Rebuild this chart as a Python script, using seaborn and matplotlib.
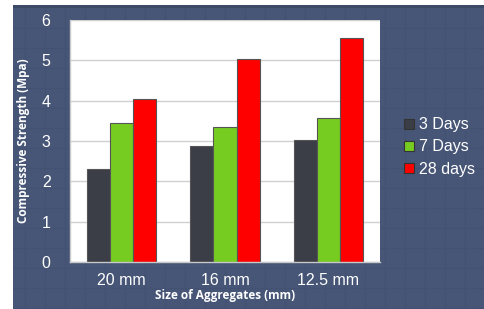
import matplotlib
matplotlib.use("Agg")
import matplotlib.pyplot as plt
import seaborn as sns
import pandas as pd
from matplotlib.patches import Rectangle
from matplotlib.lines import Line2D

categories = ["20 mm", "16 mm", "12.5 mm"]
series = ["3 Days", "7 Days", "28 days"]
days3 = [2.30, 2.88, 3.02]
days7 = [3.45, 3.35, 3.58]
days28 = [4.03, 5.03, 5.55]
yticks = [0, 1, 2, 3, 4, 5, 6]
colors = ["#3b3e46", "#77cc22", "#ff0000"]

df = pd.DataFrame({
    "Size": categories * 3,
    "Series": [s for s in series for _ in categories],
    "Value": days3 + days7 + days28,
})

sns.set_theme(style="white")
plt.rcParams["font.family"] = ["Liberation Sans", "DejaVu Sans"]

W, H = 485, 309
fig = plt.figure(figsize=(W / 100, H / 100), dpi=100)
fig.patch.set_facecolor("white")
bg = "#475677"
fig.patches.append(Rectangle((13 / W, 0), 1 - 13 / W, (H - 5) / H,
                             transform=fig.transFigure, facecolor=bg,
                             edgecolor="none", zorder=-10))
fig.patches.append(Rectangle((13 / W, (H - 8) / H), 1 - 13 / W, 3 / H,
                             transform=fig.transFigure, facecolor="#3c4a68",
                             edgecolor="none", zorder=-9))
# subtle background grid pattern
for px in range(25, W, 20):
    fig.add_artist(Line2D([px / W, px / W], [0, (H - 8) / H], transform=fig.transFigure,
                          color="#435272", lw=0.8, zorder=-8))
for py in range(28, H, 20):
    fig.add_artist(Line2D([13 / W, 1], [1 - py / H, 1 - py / H], transform=fig.transFigure,
                          color="#435272", lw=0.8, zorder=-8))

ax = fig.add_axes([70 / W, (H - 262) / H, (380 - 70) / W, (262 - 20) / H])
ax.set_facecolor("white")

sns.barplot(data=df, x="Size", y="Value", hue="Series", palette=colors, saturation=1,
            width=0.67, edgecolor="#555555", linewidth=0.8, ax=ax, legend=False)

ax.set_ylim(0, 6)
ax.set_yticks(yticks)
ax.yaxis.grid(True, color="#d0d0d0", lw=1)
ax.set_axisbelow(True)
for s in ["top", "right"]:
    ax.spines[s].set_visible(False)
for s in ["left", "bottom"]:
    ax.spines[s].set_color("#c8c8c8")
    ax.spines[s].set_linewidth(1)
ax.tick_params(axis="y", colors="white", labelsize=11.5, length=4, color="#9aa3b5", pad=10)
ax.tick_params(axis="x", colors="white", labelsize=11.5, length=0, pad=8)
ax.set_xlabel("Size of Aggregates (mm)", color="white", fontsize=8.5, fontweight="bold",
              labelpad=1, family=["Open Sans", "DejaVu Sans"])
ax.set_ylabel("Compressive Strength (Mpa)", color="white", fontsize=8.5, fontweight="bold",
              labelpad=8, family=["Open Sans", "DejaVu Sans"])

handles = [Rectangle((0, 0), 1, 1, facecolor=c, edgecolor="#333333", lw=0.8) for c in colors]
leg = fig.legend(handles, series, loc="center left", bbox_to_anchor=(390 / W, 1 - 147 / H),
                 frameon=False, fontsize=11.5, handlelength=0.6, handleheight=0.6,
                 handletextpad=0.3, labelspacing=0.45)
for t in leg.get_texts():
    t.set_color("white")

fig.savefig("out.png", dpi=100)
